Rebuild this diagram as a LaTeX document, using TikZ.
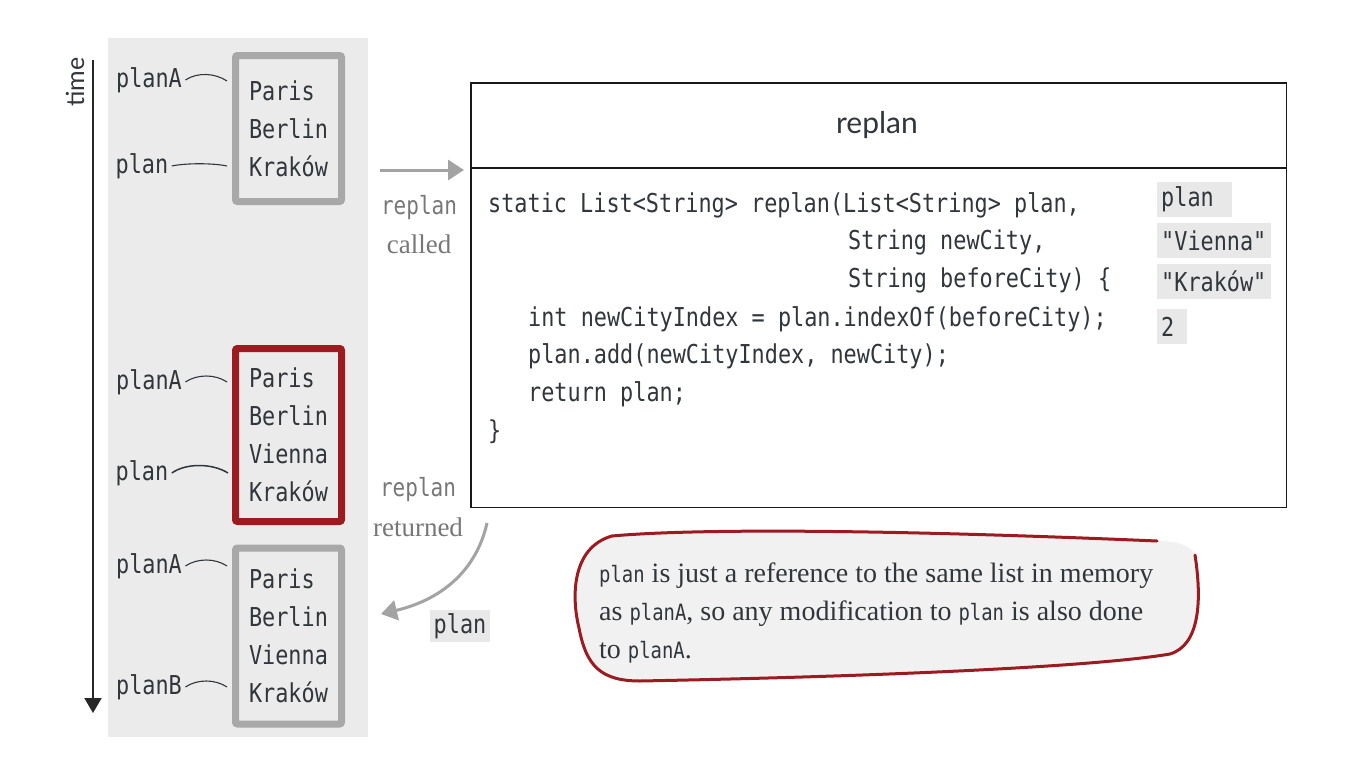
\documentclass[tikz,border=0pt]{standalone}
\usepackage{fontspec}
\setmainfont{Liberation Serif}
\setmonofont{DejaVu Sans Mono}[FakeStretch=0.84]
\newfontfamily\titlefont{Lato}
\usetikzlibrary{arrows.meta,calc}
\definecolor{panel}{HTML}{EBEBEB}
\definecolor{boxgray}{HTML}{A8A8A8}
\definecolor{darkred}{HTML}{9B1B20}
\definecolor{ink}{HTML}{30363B}
\definecolor{codebg}{HTML}{E8E8E8}
\definecolor{arrowgray}{HTML}{A3A3A3}
\definecolor{labgray}{HTML}{777777}
\definecolor{notefill}{HTML}{F1F1F1}
\newcommand\cdn[1]{{\ttfamily\fontsize{22.5}{22.5}\selectfont #1}}
\tikzset{
  mono/.style={font=\ttfamily\fontsize{26}{38}\selectfont, text=ink},
  listbox/.style={mono, draw=boxgray, line width=7pt, rounded corners=2pt,
    minimum width=106pt, align=left, inner sep=0pt},
  redbox/.style={listbox, draw=darkred},
  reflabel/.style={mono},
  link/.style={draw=ink, line width=1.1pt},
  code/.style={font=\ttfamily\fontsize{26}{26}\selectfont, text=ink, inner sep=0pt},
  valbox/.style={font=\ttfamily\fontsize{26}{26}\selectfont, text=ink, fill=codebg,
    inner xsep=4pt, inner ysep=0pt, minimum height=35pt, anchor=north west, align=left},
  garrow/.style={draw=arrowgray, line width=3pt, -{Triangle[width=20pt,length=16pt]}},
  glabel/.style={text=labgray, inner sep=0pt},
  note/.style={font=\fontsize{28}{38}\selectfont, text=ink, inner sep=0pt, anchor=base west},
}
\begin{document}
\begin{tikzpicture}[x=1pt,y=-1pt]
\fill[white] (0,0) rectangle (1353,771);
\useasboundingbox (0,0) rectangle (1353,771);

% left panel
\fill[panel] (108,38) rectangle (368,737);

% time axis
\coordinate (t0) at (93,60);
\coordinate (t1) at (93,713);
\draw[draw=black!85, line width=2pt, -{Triangle[width=17pt,length=15pt]}] (t0) -- (t1);
\node[font=\titlefont\fontsize{25}{25}\selectfont, text=ink, rotate=90] (time) at (75,82) {time};

% box 1
\node[listbox, minimum height=146pt] (b1) at (288.5,128.5) {Paris\\Berlin\\Kraków};
\node[reflabel] (pa1) at (149,80) {planA};
\node[reflabel] (p1) at (142,166) {plan};
\draw[link] (pa1.east) .. controls +(12,-8) and +(-12,-8) .. ($(b1.west |- pa1)+(-5,1)$);
\draw[link] (p1.east) .. controls +(14,-3) and +(-14,-3) .. ($(b1.west |- p1)+(-5,0)$);

% box 2
\node[redbox, minimum height=173pt] (b2) at (288.5,435) {Paris\\Berlin\\Vienna\\Kraków};
\node[reflabel] (pa2) at (149,382) {planA};
\node[reflabel] (p2) at (142,473) {plan};
\draw[link] (pa2.east) .. controls +(12,-8) and +(-12,-8) .. ($(b2.west |- pa2)+(-5,0)$);
\draw[link, line width=1.5pt] (p2.east) .. controls +(14,-10) and +(-16,-10) .. ($(b2.west |- p2)+(-4,0)$);

% box 3
\node[listbox, minimum height=176pt] (b3) at (288.5,636) {Paris\\Berlin\\Vienna\\Kraków};
\node[reflabel] (pa3) at (149,566) {planA};
\node[reflabel] (pb3) at (149,687) {planB};
\draw[link] (pa3.east) .. controls +(12,-8) and +(-12,-8) .. ($(b3.west |- pa3)+(-5,0)$);
\draw[link] (pb3.east) .. controls +(12,-8) and +(-12,-8) .. ($(b3.west |- pb3)+(-5,0)$);

% replan box
\node[draw=black!90, line width=1.5pt, minimum width=815.5pt, minimum height=424.5pt, inner sep=0pt] (rb) at (878.5,295) {};
\coordinate (dv) at (0,168);
\draw[black!90, line width=1.2pt] (rb.west |- dv) -- (rb.east |- dv);
\node[font=\titlefont\fontsize{30}{30}\selectfont, text=ink] (title) at (877,125) {replan};

% code
\node[code, anchor=base west] (c1) at (488,212) {static List<String> replan(List<String> plan,};
\node[code, anchor=base west] (c2) at (848,249.5) {String newCity,};
\node[code, anchor=base west] (c3) at (848,287) {String beforeCity) \{};
\node[code, anchor=base west] (c4) at (528,326) {int newCityIndex = plan.indexOf(beforeCity);};
\node[code, anchor=base west] (c5) at (528,363) {plan.add(newCityIndex, newCity);};
\node[code, anchor=base west] (c6) at (528,401) {return plan;};
\node[code, anchor=base west] (c7) at (488,439) {\}};

% argument values
\node[valbox, text width=67pt] (v1) at (1157,182) {plan};
\node[valbox, text width=106pt] (v2) at (1157,223) {"Vienna"};
\node[valbox, text width=106pt] (v3) at (1157,264) {"Kraków"};
\node[valbox, text width=22pt] (v4) at (1157,309) {2};

% call arrow
\coordinate (cs) at (380,170);
\draw[garrow, shorten >=6pt] (cs) -- (cs -| rb.west);
\node[glabel, font=\ttfamily\fontsize{25}{25}\selectfont] (lc1) at (419,208) {replan};
\node[glabel, font=\fontsize{27}{27}\selectfont] (lc2) at (419,244) {called};

% return arrow
\node[glabel, font=\ttfamily\fontsize{25}{25}\selectfont] (lr1) at (418,490) {replan};
\node[glabel, font=\fontsize{27}{27}\selectfont] (lr2) at (418,527) {returned};
\coordinate (rs) at (487,523);
\coordinate (re) at (381,614);
\draw[garrow] (rs) .. controls (476,572) and (440,600) .. (re);
\node[font=\ttfamily\fontsize{26}{26}\selectfont, text=ink, fill=codebg, inner xsep=4pt, inner ysep=0pt, minimum height=32pt] (rv) at (460,626) {plan};

% callout
\fill[notefill] (1157,541) .. controls (900,530) and (700,528) .. (612,536)
  .. controls (570,548) and (572,600) .. (579,628)
  .. controls (586,665) and (600,681) .. (640,681)
  .. controls (900,676) and (1100,666) .. (1170,654)
  .. controls (1200,645) and (1202,600) .. (1195,555)
  .. controls (1192,545) and (1175,541) .. cycle;
\draw[darkred, line width=3pt, line cap=round] (1157,541) .. controls (900,530) and (700,528) .. (612,536)
  .. controls (570,548) and (572,600) .. (579,628)
  .. controls (586,665) and (600,681) .. (640,681)
  .. controls (900,676) and (1100,666) .. (1170,654)
  .. controls (1200,645) and (1202,600) .. (1195,555);
\node[note] (n1) at (599,582) {\cdn{plan} is just a reference to the same list in memory};
\node[note] (n2) at (599,620) {as \cdn{planA}, so any modification to \cdn{plan} is also done};
\node[note] (n3) at (599,658) {to \cdn{planA}.};
\end{tikzpicture}
\end{document}
